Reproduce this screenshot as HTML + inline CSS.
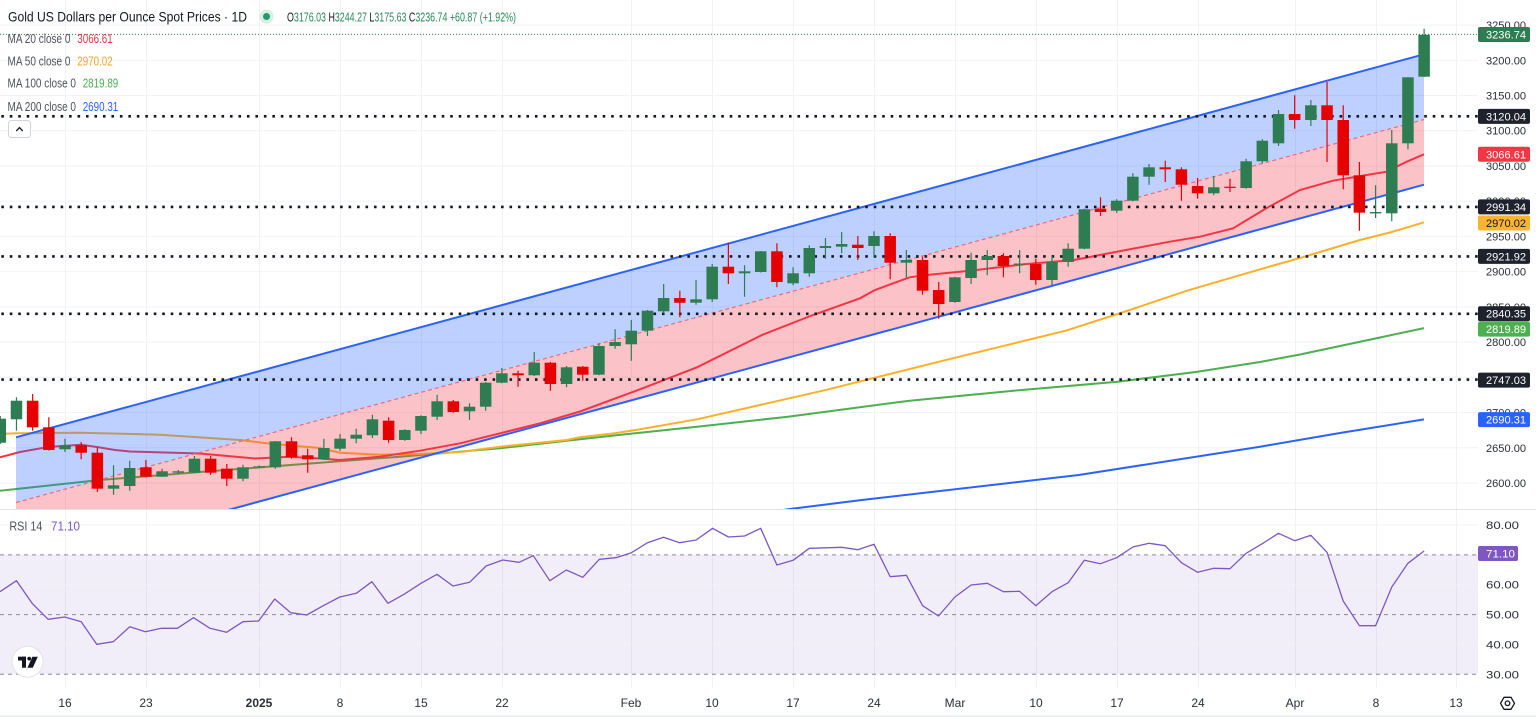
<!DOCTYPE html>
<html><head><meta charset="utf-8"><style>
html,body{margin:0;padding:0;background:#fff;}
svg{display:block;font-family:"Liberation Sans",Arial,sans-serif;}
</style></head><body>
<svg width="1536" height="717" viewBox="0 0 1536 717" xmlns="http://www.w3.org/2000/svg">
<defs>
<clipPath id="pane"><rect x="0" y="0" width="1478" height="509"/></clipPath>
</defs>
<rect width="1536" height="717" fill="#fff"/>

<!-- vertical grid -->
<g stroke="#f0f2f6" stroke-width="1">
<line x1="65.5" y1="0" x2="65.5" y2="688"/>
<line x1="146.5" y1="0" x2="146.5" y2="688"/>
<line x1="259.5" y1="0" x2="259.5" y2="688"/>
<line x1="340.5" y1="0" x2="340.5" y2="688"/>
<line x1="421.5" y1="0" x2="421.5" y2="688"/>
<line x1="502.5" y1="0" x2="502.5" y2="688"/>
<line x1="631.5" y1="0" x2="631.5" y2="688"/>
<line x1="712.5" y1="0" x2="712.5" y2="688"/>
<line x1="793.5" y1="0" x2="793.5" y2="688"/>
<line x1="874.5" y1="0" x2="874.5" y2="688"/>
<line x1="955.5" y1="0" x2="955.5" y2="688"/>
<line x1="1036.5" y1="0" x2="1036.5" y2="688"/>
<line x1="1117.5" y1="0" x2="1117.5" y2="688"/>
<line x1="1198.5" y1="0" x2="1198.5" y2="688"/>
<line x1="1295.5" y1="0" x2="1295.5" y2="688"/>
<line x1="1376.5" y1="0" x2="1376.5" y2="688"/>
<line x1="1456.5" y1="0" x2="1456.5" y2="688"/>
</g>
<!-- horizontal grid price -->
<g stroke="#f0f2f6" stroke-width="1">
<line x1="0" y1="25.1" x2="1478" y2="25.1"/>
<line x1="0" y1="60.3" x2="1478" y2="60.3"/>
<line x1="0" y1="95.5" x2="1478" y2="95.5"/>
<line x1="0" y1="130.75" x2="1478" y2="130.75"/>
<line x1="0" y1="166" x2="1478" y2="166"/>
<line x1="0" y1="201.2" x2="1478" y2="201.2"/>
<line x1="0" y1="236.4" x2="1478" y2="236.4"/>
<line x1="0" y1="271.65" x2="1478" y2="271.65"/>
<line x1="0" y1="306.9" x2="1478" y2="306.9"/>
<line x1="0" y1="342.1" x2="1478" y2="342.1"/>
<line x1="0" y1="377.3" x2="1478" y2="377.3"/>
<line x1="0" y1="412.55" x2="1478" y2="412.55"/>
<line x1="0" y1="447.8" x2="1478" y2="447.8"/>
<line x1="0" y1="483" x2="1478" y2="483"/>
</g>

<g clip-path="url(#pane)">
<!-- MA lines -->
<polyline fill="none" stroke="#2962ff" stroke-width="2" points="700,522 790,509 861.8,500 1078.7,475 1260,446.7 1340,433 1424,419.4"/>
<polyline fill="none" stroke="#4caf50" stroke-width="2" points="0,490.7 100,480 200,472 320,462.7 400,456.7 500,448.3 580,439.3 640,432.7 697,426.7 788,416.7 909.6,400.7 1013.6,390.7 1117.7,381.7 1195.8,372 1260,362 1300,354.5 1340,346 1380,337.5 1424,328.1"/>
<polyline fill="none" stroke="#fbb02a" stroke-width="2" points="0,434 16,433.3 80,432.7 160,434.7 240,440 273,444 320,448 340,452.7 380,454.7 420,454 460,452 500,446.7 566.7,440 580,437.3 614.7,433.3 640,429.3 697,419.3 822.8,390.7 948.6,359.3 1065.7,330.7 1117.7,314 1187,290.7 1260,269.3 1300,258 1360,240 1390,232.5 1424,222.3"/>
<polyline fill="none" stroke="#f23645" stroke-width="2" points="0,457.3 20,452 48,447 81,444.7 97,447 115,450 130,451.5 200,453.5 255,458.5 275,457.5 290,456.7 320,458.5 340,460 380,456.7 420,450.7 460,443.3 500,433.3 540,423.3 580,411.5 620,396.7 640,389.3 697,367.3 762,335 813,315 860,298.3 875,290 909.6,277.3 926.7,275 970,270.7 1026.6,264 1074,260 1126,250 1169.7,241.7 1200,236.7 1233,228.3 1266.7,208 1300,190 1333,180.7 1366.7,175 1386.7,171.7 1406.7,161.7 1424,154.3"/>

<!-- channel fills -->
<polygon fill="rgba(41,98,255,0.3)" points="16,437.3 1424,54.3 1424,119.5 16,502.5"/>
<polygon fill="rgba(242,54,69,0.3)" points="16,502.5 1424,119.5 1424,184.7 16,567.7"/>
<line x1="16" y1="437.3" x2="1424" y2="54.3" stroke="#2962ff" stroke-width="2"/>
<line x1="16" y1="567.7" x2="1424" y2="184.7" stroke="#2962ff" stroke-width="2"/>
<line x1="16" y1="502.5" x2="1424" y2="119.5" stroke="#ef6b7c" stroke-width="1.2" stroke-dasharray="4 3"/>

<!-- price line -->
<line x1="0" y1="34.4" x2="1478" y2="34.4" stroke="#2a7e52" stroke-width="1" stroke-dasharray="1 2"/>
<!-- dotted levels -->
<g stroke="#131722" stroke-width="2.6" stroke-dasharray="2.6 5.87">
<line x1="1.3" y1="116.3" x2="1478" y2="116.3"/>
<line x1="1.3" y1="206.9" x2="1478" y2="206.9"/>
<line x1="1.3" y1="256.4" x2="1478" y2="256.4"/>
<line x1="1.3" y1="313.8" x2="1478" y2="313.8"/>
<line x1="1.3" y1="379.6" x2="1478" y2="379.6"/>
</g>

<!-- green wicks -->
<path stroke="#2e7d52" stroke-width="1.2" fill="none" d="M0.28 416V444M16.46 397.3V430.7M65 438.7V452M113.54 465.3V494.7M129.72 460.7V490.7M162.08 468.7V477M178.26 470V474M194.44 456V473.3M242.98 464.7V481.3M259.16 465.5V468M275.34 441V468.7M323.88 438.7V460M340.06 434V450.7M356.24 428.7V443.3M372.42 414.7V438M404.78 429.3V440.7M420.96 415.3V434M437.14 394.7V420M469.5 403.3V420M485.68 382V410.7M501.86 368V383.3M534.22 352V376M566.58 366V387.3M598.94 343.3V375.3M615.12 329.3V348.7M631.3 320V360.7M647.48 310V336M663.66 284V313.3M696.02 280V304.7M712.2 264V302M744.56 265.3V296.7M760.74 251V272.5M793.1 267.3V285.3M809.28 245.3V276.7M825.46 238V258.7M841.64 232V253.3M874 231.3V256.7M906.36 250V278M954.9 276.7V302.7M971.08 252.7V284M987.26 250V275.3M1019.62 250V273.3M1051.98 256V285.3M1068.16 243.3V266.7M1084.34 208.7V249.3M1116.7 199.3V212.7M1132.88 173.3V201.3M1149.06 164V184.7M1213.78 176V195.3M1246.14 158.7V188.7M1262.32 139.3V163.3M1278.5 110V146M1310.86 100V126M1375.58 185.3V218M1391.76 130V221.3M1407.94 77V149.3M1424.12 28.7V77"/>
<!-- red wicks -->
<path stroke="#e60000" stroke-width="1.2" fill="none" d="M32.64 394V430.7M48.82 417.3V450.5M81.18 442V459.3M97.36 447.3V492M145.9 460V477.3M210.62 456V474.7M226.8 464V486M291.52 437.3V458.7M307.7 448.7V472.7M388.6 417.3V442.7M453.32 400V412.7M518.04 370.7V386.7M550.4 362V390.7M582.76 366V380.7M679.84 290.7V317.3M728.38 242.7V284M776.92 243.3V287.3M857.82 236V260M890.18 233.3V279.3M922.54 256.7V294.7M938.72 282V318.7M1003.44 253.3V277.3M1035.8 258.7V284.7M1100.52 197.3V216M1165.24 160.7V182M1181.42 167.3V200.7M1197.6 178V198.7M1229.96 178.7V192M1294.68 95.3V128.7M1327.04 82V162M1343.22 105.3V189.3M1359.4 162V230.7"/>

<!-- green bodies -->
<g fill="#2e7d52">
<rect x="-5.47" y="418.7" width="11.5" height="24"/>
<rect x="10.71" y="400.7" width="11.5" height="18.6"/>
<rect x="59.25" y="445.3" width="11.5" height="4"/>
<rect x="107.79" y="485.3" width="11.5" height="3.4"/>
<rect x="123.97" y="468" width="11.5" height="18"/>
<rect x="156.33" y="471.3" width="11.5" height="5.4"/>
<rect x="172.51" y="471.3" width="11.5" height="1.4"/>
<rect x="188.69" y="458.7" width="11.5" height="14"/>
<rect x="237.23" y="467.3" width="11.5" height="11.4"/>
<rect x="253.41" y="466.3" width="11.5" height="1.2"/>
<rect x="269.59" y="441.3" width="11.5" height="26"/>
<rect x="318.13" y="448" width="11.5" height="11.3"/>
<rect x="334.31" y="438.7" width="11.5" height="10"/>
<rect x="350.49" y="434.7" width="11.5" height="4"/>
<rect x="366.67" y="419.3" width="11.5" height="16"/>
<rect x="399.03" y="430" width="11.5" height="10"/>
<rect x="415.21" y="416" width="11.5" height="14.7"/>
<rect x="431.39" y="401.3" width="11.5" height="15.4"/>
<rect x="463.75" y="406.7" width="11.5" height="4.6"/>
<rect x="479.93" y="382.7" width="11.5" height="24"/>
<rect x="496.11" y="373.3" width="11.5" height="9.4"/>
<rect x="528.47" y="362.7" width="11.5" height="12.6"/>
<rect x="560.83" y="367.3" width="11.5" height="16.7"/>
<rect x="593.19" y="346" width="11.5" height="28.7"/>
<rect x="609.37" y="342" width="11.5" height="4"/>
<rect x="625.55" y="330.7" width="11.5" height="13.6"/>
<rect x="641.73" y="310.7" width="11.5" height="20"/>
<rect x="657.91" y="298" width="11.5" height="13.3"/>
<rect x="690.27" y="299.3" width="11.5" height="3.4"/>
<rect x="706.45" y="266.7" width="11.5" height="32.6"/>
<rect x="738.81" y="271.3" width="11.5" height="2"/>
<rect x="754.99" y="251.3" width="11.5" height="20.7"/>
<rect x="787.35" y="273.3" width="11.5" height="10"/>
<rect x="803.53" y="248" width="11.5" height="25.3"/>
<rect x="819.71" y="246" width="11.5" height="2"/>
<rect x="835.89" y="244" width="11.5" height="2.7"/>
<rect x="868.25" y="236" width="11.5" height="10"/>
<rect x="900.61" y="260" width="11.5" height="2.7"/>
<rect x="949.15" y="277.3" width="11.5" height="24.7"/>
<rect x="965.33" y="260" width="11.5" height="18"/>
<rect x="981.51" y="256" width="11.5" height="4"/>
<rect x="1013.87" y="263.5" width="11.5" height="1.2"/>
<rect x="1046.23" y="262" width="11.5" height="18"/>
<rect x="1062.41" y="248.7" width="11.5" height="13.3"/>
<rect x="1078.59" y="209.3" width="11.5" height="39.4"/>
<rect x="1110.95" y="200.7" width="11.5" height="10"/>
<rect x="1127.13" y="176.7" width="11.5" height="24"/>
<rect x="1143.31" y="167.3" width="11.5" height="9.4"/>
<rect x="1208.03" y="187.3" width="11.5" height="6"/>
<rect x="1240.39" y="161.3" width="11.5" height="26.7"/>
<rect x="1256.57" y="140.7" width="11.5" height="20.6"/>
<rect x="1272.75" y="114" width="11.5" height="29.3"/>
<rect x="1305.11" y="105.3" width="11.5" height="14.7"/>
<rect x="1369.83" y="212" width="11.5" height="1.4"/>
<rect x="1386.01" y="143.3" width="11.5" height="70"/>
<rect x="1402.19" y="77.3" width="11.5" height="66"/>
<rect x="1418.37" y="34.7" width="11.5" height="42"/>
</g>
<!-- red bodies -->
<g fill="#e60000">
<rect x="26.89" y="400.7" width="11.5" height="26.6"/>
<rect x="43.07" y="427.3" width="11.5" height="22.7"/>
<rect x="75.43" y="445.3" width="11.5" height="7.4"/>
<rect x="91.61" y="452.7" width="11.5" height="36"/>
<rect x="140.15" y="467.3" width="11.5" height="9.4"/>
<rect x="204.87" y="458.7" width="11.5" height="14"/>
<rect x="221.05" y="468.7" width="11.5" height="10"/>
<rect x="285.77" y="441.3" width="11.5" height="16"/>
<rect x="301.95" y="455.3" width="11.5" height="4"/>
<rect x="382.85" y="420.7" width="11.5" height="19.3"/>
<rect x="447.57" y="401.3" width="11.5" height="10.7"/>
<rect x="512.29" y="373.3" width="11.5" height="2"/>
<rect x="544.65" y="362.7" width="11.5" height="21.3"/>
<rect x="577.01" y="366.7" width="11.5" height="8"/>
<rect x="674.09" y="298" width="11.5" height="4.7"/>
<rect x="722.63" y="266.7" width="11.5" height="6.6"/>
<rect x="771.17" y="251.3" width="11.5" height="30.7"/>
<rect x="852.07" y="244.7" width="11.5" height="3.3"/>
<rect x="884.43" y="236" width="11.5" height="26.7"/>
<rect x="916.79" y="260" width="11.5" height="30.7"/>
<rect x="932.97" y="290" width="11.5" height="14"/>
<rect x="997.69" y="256" width="11.5" height="10"/>
<rect x="1030.05" y="264" width="11.5" height="16"/>
<rect x="1094.77" y="208.7" width="11.5" height="3.3"/>
<rect x="1159.49" y="167.3" width="11.5" height="2"/>
<rect x="1175.67" y="169.3" width="11.5" height="15.4"/>
<rect x="1191.85" y="186" width="11.5" height="7.3"/>
<rect x="1224.21" y="186.7" width="11.5" height="1.2"/>
<rect x="1288.93" y="114" width="11.5" height="6"/>
<rect x="1321.29" y="105.3" width="11.5" height="14.7"/>
<rect x="1337.47" y="120" width="11.5" height="55.3"/>
<rect x="1353.65" y="175.3" width="11.5" height="37.4"/>
</g>
</g>

<!-- pane separators -->
<line x1="0" y1="509.5" x2="1536" y2="509.5" stroke="#e0e3eb" stroke-width="1"/>
<line x1="0" y1="716" x2="1536" y2="716" stroke="#e0e3eb" stroke-width="1"/>

<!-- RSI pane -->
<rect x="0" y="554.9" width="1478" height="119.4" fill="rgba(126,87,194,0.1)"/>
<g stroke="#f0f2f6" stroke-width="1">
<line x1="0" y1="525" x2="1478" y2="525"/>
<line x1="0" y1="584.7" x2="1478" y2="584.7"/>
<line x1="0" y1="644.4" x2="1478" y2="644.4"/>
</g>
<g stroke="#868993" stroke-width="1" stroke-dasharray="4 4">
<line x1="0" y1="554.9" x2="1478" y2="554.9"/>
<line x1="0" y1="614.6" x2="1478" y2="614.6"/>
<line x1="0" y1="674.3" x2="1478" y2="674.3"/>
</g>
<polyline fill="none" stroke="#7e57c2" stroke-width="1.3" stroke-linejoin="round" points="0,591.7 16.5,580.7 32.1,603.3 48.1,619.3 64.7,617 81.2,621.7 96.7,644.3 113.3,641.7 129.8,626.7 145.4,631.7 161.4,628.3 177.4,628.3 193.5,617.7 210,628.3 226.5,632.3 243,621.7 258.6,621 274.7,599 290.7,612.7 306.7,615 323.3,605.7 339.8,597 356.3,593.3 371.9,581.7 387.9,603.3 404,594.3 421,583.3 437,574.3 453,586 469.6,582.3 486.1,566 502.6,560 519.1,562.3 533.3,555.7 549.8,580.7 566.3,570 582.8,577.3 599.3,559.3 615.9,557.7 631.4,552.7 647.5,542.7 663.5,537.3 679.6,542.7 696.1,540 712.6,528.3 728.4,537 744.6,536 760.7,528.3 776.9,565 793.1,560.3 809.3,548.3 825.5,547.8 841.6,547.3 857.8,549.7 874,544.3 890.2,576.7 906.4,575.3 922.6,605.7 938.5,616 954.9,597 971.1,585 987.3,583.3 1003.4,591.7 1019.6,591.3 1035.8,605.7 1052,591.7 1068.2,582.7 1084.3,560.3 1100.5,563.7 1116.7,557.7 1132.9,547 1149.1,543.3 1165.2,545.7 1181.4,562.7 1197.6,572.3 1213.8,568.3 1230,568.7 1246.1,553.3 1262.3,543.7 1278.5,533.3 1294.7,540.7 1310.9,535.3 1327,552.3 1343.2,601 1359.4,625.7 1375.6,625.7 1391.8,587 1407.9,563.3 1424.1,551"/>

<!-- header -->
<text x="8" y="21.5" font-size="14" fill="#131722" textLength="239" lengthAdjust="spacingAndGlyphs">Gold US Dollars per Ounce Spot Prices · 1D</text>
<circle cx="266.5" cy="16.5" r="7" fill="#d5efe4"/>
<circle cx="266.5" cy="16.5" r="3.5" fill="#22996e"/>
<text x="287" y="21.5" font-size="13" textLength="229" lengthAdjust="spacingAndGlyphs"><tspan fill="#131722">O</tspan><tspan fill="#2a8a5a">3176.03 </tspan><tspan fill="#131722">H</tspan><tspan fill="#2a8a5a">3244.27 </tspan><tspan fill="#131722">L</tspan><tspan fill="#2a8a5a">3175.63 </tspan><tspan fill="#131722">C</tspan><tspan fill="#2a8a5a">3236.74 +60.87 (+1.92%)</tspan></text>

<!-- MA legend -->
<g font-size="12.5" fill="#4f525c">
<text x="7.5" y="43" textLength="63" lengthAdjust="spacingAndGlyphs">MA 20 close 0</text>
<text x="7.5" y="65.6" textLength="63" lengthAdjust="spacingAndGlyphs">MA 50 close 0</text>
<text x="7.5" y="87.6" textLength="68.5" lengthAdjust="spacingAndGlyphs">MA 100 close 0</text>
<text x="7.5" y="111" textLength="68.5" lengthAdjust="spacingAndGlyphs">MA 200 close 0</text>
</g>
<g font-size="12.5">
<text x="77.3" y="43" fill="#f23645" textLength="35.4" lengthAdjust="spacingAndGlyphs">3066.61</text>
<text x="77.3" y="65.6" fill="#f5a623" textLength="35.4" lengthAdjust="spacingAndGlyphs">2970.02</text>
<text x="82.7" y="87.6" fill="#4caf50" textLength="35.6" lengthAdjust="spacingAndGlyphs">2819.89</text>
<text x="82.7" y="111" fill="#2962ff" textLength="35.6" lengthAdjust="spacingAndGlyphs">2690.31</text>
</g>
<!-- collapse button -->
<rect x="8.5" y="120.5" width="22" height="17" rx="3" fill="#fff" stroke="#d1d4dc" stroke-width="1"/>
<path d="M16.3 131 L19.5 127.6 L22.7 131" fill="none" stroke="#131722" stroke-width="1.3"/>

<!-- RSI legend -->
<text x="9.4" y="530.5" font-size="12.5" fill="#4f525c" textLength="33" lengthAdjust="spacingAndGlyphs">RSI 14</text>
<text x="51" y="530.5" font-size="12.5" fill="#7e57c2" textLength="29" lengthAdjust="spacingAndGlyphs">71.10</text>

<!-- TV logo -->
<circle cx="27.5" cy="661.7" r="15.5" fill="#fff" stroke="#e0e3eb" stroke-width="1"/>
<g fill="#131722">
<rect x="18" y="656.7" width="8" height="3.8"/>
<rect x="22" y="656.7" width="4" height="11"/>
<circle cx="29.2" cy="658.6" r="1.9"/>
<polygon points="32.4,656.7 37.8,656.7 32.8,667.7 27.4,667.7"/>
</g>

<!-- price axis labels -->
<g font-size="11" fill="#2a2e39">
<text x="1486" y="29" textLength="40" lengthAdjust="spacingAndGlyphs">3250.00</text>
<text x="1486" y="64.3" textLength="40" lengthAdjust="spacingAndGlyphs">3200.00</text>
<text x="1486" y="99.5" textLength="40" lengthAdjust="spacingAndGlyphs">3150.00</text>
<text x="1486" y="134.7" textLength="40" lengthAdjust="spacingAndGlyphs">3100.00</text>
<text x="1486" y="170" textLength="40" lengthAdjust="spacingAndGlyphs">3050.00</text>
<text x="1486" y="205.2" textLength="40" lengthAdjust="spacingAndGlyphs">3000.00</text>
<text x="1486" y="240.4" textLength="40" lengthAdjust="spacingAndGlyphs">2950.00</text>
<text x="1486" y="275.6" textLength="40" lengthAdjust="spacingAndGlyphs">2900.00</text>
<text x="1486" y="310.9" textLength="40" lengthAdjust="spacingAndGlyphs">2850.00</text>
<text x="1486" y="346.1" textLength="40" lengthAdjust="spacingAndGlyphs">2800.00</text>
<text x="1486" y="381.3" textLength="40" lengthAdjust="spacingAndGlyphs">2750.00</text>
<text x="1486" y="416.5" textLength="40" lengthAdjust="spacingAndGlyphs">2700.00</text>
<text x="1486" y="451.8" textLength="40" lengthAdjust="spacingAndGlyphs">2650.00</text>
<text x="1486" y="487" textLength="40" lengthAdjust="spacingAndGlyphs">2600.00</text>
<text x="1486" y="529" textLength="33" lengthAdjust="spacingAndGlyphs">80.00</text>
<text x="1486" y="588.7" textLength="33" lengthAdjust="spacingAndGlyphs">60.00</text>
<text x="1486" y="618.6" textLength="33" lengthAdjust="spacingAndGlyphs">50.00</text>
<text x="1486" y="648.4" textLength="33" lengthAdjust="spacingAndGlyphs">40.00</text>
<text x="1486" y="678.3" textLength="33" lengthAdjust="spacingAndGlyphs">30.00</text>
</g>

<!-- badges -->
<g>
<rect x="1478" y="27" width="52" height="15" rx="2" fill="#2e7d52"/>
<rect x="1478" y="108.9" width="52" height="15" rx="2" fill="#1e222d"/>
<rect x="1478" y="146.8" width="52" height="15" rx="2" fill="#f23645"/>
<rect x="1478" y="199.4" width="52" height="15" rx="2" fill="#1e222d"/>
<rect x="1478" y="215.5" width="52" height="15" rx="2" fill="#fbb42d"/>
<rect x="1478" y="248.9" width="52" height="15" rx="2" fill="#1e222d"/>
<rect x="1478" y="306.2" width="52" height="15" rx="2" fill="#1e222d"/>
<rect x="1478" y="321.6" width="52" height="15" rx="2" fill="#4caf50"/>
<rect x="1478" y="372.6" width="52" height="15" rx="2" fill="#1e222d"/>
<rect x="1478" y="412.1" width="52" height="15" rx="2" fill="#2962ff"/>
<rect x="1478" y="546" width="40" height="15" rx="2" fill="#7e57c2"/>
</g>
<g font-size="11" fill="#fff">
<text x="1486" y="38.5" textLength="40" lengthAdjust="spacingAndGlyphs">3236.74</text>
<text x="1486" y="120.4" textLength="40" lengthAdjust="spacingAndGlyphs">3120.04</text>
<text x="1486" y="158.3" textLength="40" lengthAdjust="spacingAndGlyphs">3066.61</text>
<text x="1486" y="210.9" textLength="40" lengthAdjust="spacingAndGlyphs">2991.34</text>
<text x="1486" y="227" textLength="40" lengthAdjust="spacingAndGlyphs" fill="#131722">2970.02</text>
<text x="1486" y="260.4" textLength="40" lengthAdjust="spacingAndGlyphs">2921.92</text>
<text x="1486" y="317.7" textLength="40" lengthAdjust="spacingAndGlyphs">2840.35</text>
<text x="1486" y="333.1" textLength="40" lengthAdjust="spacingAndGlyphs">2819.89</text>
<text x="1486" y="384.1" textLength="40" lengthAdjust="spacingAndGlyphs">2747.03</text>
<text x="1486" y="423.6" textLength="40" lengthAdjust="spacingAndGlyphs">2690.31</text>
<text x="1486" y="557.5" textLength="29" lengthAdjust="spacingAndGlyphs">71.10</text>
</g>

<!-- x axis labels -->
<g font-size="12" fill="#2a2e39" text-anchor="middle">
<text x="65" y="707">16</text>
<text x="146" y="707">23</text>
<text x="259" y="707" font-weight="bold">2025</text>
<text x="340" y="707">8</text>
<text x="421" y="707">15</text>
<text x="502" y="707">22</text>
<text x="631" y="707">Feb</text>
<text x="712" y="707">10</text>
<text x="793" y="707">17</text>
<text x="874" y="707">24</text>
<text x="955" y="707">Mar</text>
<text x="1036" y="707">10</text>
<text x="1117" y="707">17</text>
<text x="1198" y="707">24</text>
<text x="1295" y="707">Apr</text>
<text x="1376" y="707">8</text>
<text x="1456" y="707">13</text>
</g>

<!-- gear icon -->
<polygon points="1500.5,703.3 1504,697.3 1511,697.3 1514.5,703.3 1511,709.3 1504,709.3" fill="none" stroke="#131722" stroke-width="1.3" stroke-linejoin="round"/>
<circle cx="1507.5" cy="703.3" r="2.3" fill="none" stroke="#131722" stroke-width="1.3"/>
</svg>
</body></html>
